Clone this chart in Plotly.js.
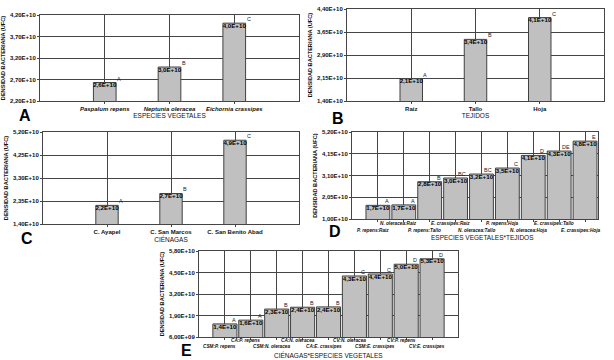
<!DOCTYPE html>
<html><head><meta charset="utf-8">
<script src="https://cdn.plot.ly/plotly-3.0.1.min.js"></script>
<style>html,body{margin:0;padding:0;background:#fff}#chart{width:614px;height:360px}</style>
</head><body><div id="chart"></div>
<script>
// ---- Panel A ----
const aCats = ['Paspalum repens', 'Neptunia oleracea', 'Eichornia crassipes'];
const aVals = [2.63e10, 2.99e10, 4.01e10];
const aLetters = ['A', 'B', 'C'];
const aTickVals = [2.2e10, 2.7e10, 3.2e10, 3.7e10, 4.2e10];
const aTickText = ['2,20E+10', '2,70E+10', '3,20E+10', '3,70E+10', '4,20E+10'];
const aTitle = 'ESPECIES VEGETALES';
// ---- Panel B ----
const bCats = ['Raiz', 'Tallo', 'Hoja'];
const bVals = [2.13e10, 3.41e10, 4.12e10];
const bLetters = ['A', 'B', 'C'];
const bTickVals = [1.4e10, 2.15e10, 2.9e10, 3.65e10, 4.4e10];
const bTickText = ['1,40E+10', '2,15E+10', '2,90E+10', '3,65E+10', '4,40E+10'];
const bTitle = 'TEJIDOS';
// ---- Panel C ----
const cCats = ['C. Ayapel', 'C. San Marcos', 'C. San Benito Abad'];
const cVals = [2.17e10, 2.66e10, 4.86e10];
const cLetters = ['A', 'B', 'C'];
const cTickVals = [1.4e10, 2.35e10, 3.3e10, 4.25e10, 5.2e10];
const cTickText = ['1,40E+10', '2,35E+10', '3,30E+10', '4,25E+10', '5,20E+10'];
const cTitle = 'CIÉNAGAS';
// ---- Panel D ----
const dCats = ['P. repens:Raiz', 'N. oleracea:Raiz', 'P. repens:Tallo', 'E. crassipes:Raiz', 'N. oleracea:Tallo',
               'P. repens:Hoja', 'N. oleracea:Hoja', 'E. crassipes:Tallo', 'E. crassipes:Hoja'];
const dVals = [1.66e10, 1.68e10, 2.80e10, 2.98e10, 3.17e10, 3.46e10, 4.07e10, 4.28e10, 4.76e10];
const dLetters = ['A', 'A', 'B', 'BC', 'BC', 'C', 'D', 'DE', 'E'];
const dTickVals = [1.0e10, 2.05e10, 3.1e10, 4.15e10, 5.2e10];
const dTickText = ['1,00E+10', '2,05E+10', '3,10E+10', '4,15E+10', '5,20E+10'];
const dTitle = 'ESPECIES VEGETALES*TEJIDOS';
// ---- Panel E ----
const eCats = ['CSM:P. repens', 'CA:P. repens', 'CSM:N. oleracea', 'CA:N. oleracea', 'CA:E. crassipes',
               'CV:N. oleracea', 'CSM:E. crassipes', 'CV:P. repens', 'CV:E. crassipes'];
const eVals = [1.39e10, 1.62e10, 2.29e10, 2.40e10, 2.42e10, 4.29e10, 4.41e10, 5.00e10, 5.33e10];
const eLetters = ['A', 'A', 'B', 'B', 'B', 'C', 'C', 'D', 'D'];
const eTickVals = [0.6e10, 1.9e10, 3.2e10, 4.5e10, 5.8e10];
const eTickText = ['6,00E+09', '1,90E+10', '3,20E+10', '4,50E+10', '5,80E+10'];
const eTitle = 'CIÉNAGAS*ESPECIES VEGETALES';

const panelLetters = ['A', 'B', 'C', 'D', 'E'];
const yAxisTitle = 'DENSIDAD BACTERIANA (UFC)';

const W = 614, H = 360;
const FONT = 'Liberation Sans, Arial, sans-serif';
const GRID = '#454545';

function fmt(v) { return (v / 1e10).toFixed(1).replace('.', ',') + 'E+10'; }

// layout-only settings per panel: box = [left, right, top, bottom] in px
const panels = [
  {cats: aCats, vals: aVals, letters: aLetters, tv: aTickVals, tt: aTickText, title: aTitle,
   box: [40, 299, 15, 101], xmax: 4, w: 0.35, italic: true, lpos: [25, 116], lanchor: 'left'},
  {cats: bCats, vals: bVals, letters: bLetters, tv: bTickVals, tt: bTickText, title: bTitle,
   box: [347, 604, 9, 101], xmax: 4, w: 0.35, italic: false, lpos: [338, 119], lanchor: 'left'},
  {cats: cCats, vals: cVals, letters: cLetters, tv: cTickVals, tt: cTickText, title: cTitle,
   box: [43, 299, 132, 224], xmax: 4, w: 0.35, italic: false, lpos: [27, 238], lanchor: 'left'},
  {cats: dCats, vals: dVals, letters: dLetters, tv: dTickVals, tt: dTickText, title: dTitle,
   box: [352, 598, 132, 219], xmax: 9.5, w: 0.92, italic: true, lpos: [335, 231], lanchor: 'right',
   stagger: {up: 223, low: 230.5, title: 237.5, tx: 482}},
  {cats: eCats, vals: eVals, letters: eLetters, tv: eTickVals, tt: eTickText, title: eTitle,
   box: [199, 458, 251, 337], xmax: 10, w: 0.93, italic: true, lpos: [186, 350], lanchor: 'right',
   stagger: {up: 340.5, low: 346.5, title: 354.5, tx: 328}}
];

const data = [];
const layout = {
  width: W, height: H, autosize: false,
  margin: {l: 0, r: 0, t: 0, b: 0},
  paper_bgcolor: '#fff', plot_bgcolor: '#fff',
  showlegend: false, font: {family: FONT, color: '#111'},
  annotations: []
};

panels.forEach((p, k) => {
  const s = k === 0 ? '' : String(k + 1);
  const xs = p.cats.map((c, i) => i + 1);
  const ymin = p.tv[0], ymax = p.tv[p.tv.length - 1];
  data.push({type: 'bar', x: xs, y: p.vals, width: p.w, base: 0,
    marker: {color: '#c0c0c0', line: {color: '#404040', width: 1}},
    xaxis: 'x' + s, yaxis: 'y' + s, hoverinfo: 'skip'});
  data.push({type: 'scatter', mode: 'text', x: xs, y: p.vals, text: p.vals.map(fmt),
    textposition: 'bottom center', cliponaxis: false,
    textfont: {family: FONT, size: 6.2, color: '#000', weight: 'bold'},
    xaxis: 'x' + s, yaxis: 'y' + s, hoverinfo: 'skip'});
  // significance letters at the upper right corner of each bar
  p.letters.forEach((L, i) => {
    layout.annotations.push({xref: 'x' + s, yref: 'y' + s, x: xs[i] + p.w / 2, y: p.vals[i],
      text: L, showarrow: false, xanchor: p.lanchor, yanchor: 'bottom', borderpad: 0, yshift: 0,
      font: {family: FONT, size: 5.5, color: '#222'}});
  });
  const [x0, x1, yt, yb] = p.box;
  const st = p.stagger;
  layout['xaxis' + s] = {
    domain: [x0 / W, x1 / W], anchor: 'y' + s, range: [0, p.xmax],
    tickvals: xs, ticktext: p.cats, tickangle: 0, showticklabels: !st,
    showgrid: true, gridcolor: GRID, gridwidth: 1,
    showline: true, mirror: true, linecolor: GRID, linewidth: 1, zeroline: false,
    ticks: 'outside', ticklen: 2, tickcolor: GRID,
    tickfont: {family: FONT, size: 6, color: '#111', weight: 'bold', style: p.italic ? 'italic' : 'normal'},
    title: {text: st ? '' : p.title, font: {family: FONT, size: 6.5, color: '#111'}, standoff: 2},
    fixedrange: true
  };
  layout['yaxis' + s] = {
    domain: [1 - yb / H, 1 - yt / H], anchor: 'x' + s, range: [ymin, ymax],
    tickvals: p.tv, ticktext: p.tt, showgrid: true, gridcolor: GRID, gridwidth: 1,
    showline: true, mirror: true, linecolor: GRID, linewidth: 1, zeroline: false,
    ticks: 'outside', ticklen: 2, tickcolor: GRID,
    tickfont: {family: FONT, size: 6, color: '#111', weight: 'bold'},
    title: {text: yAxisTitle, font: {family: FONT, size: 5.6, color: '#111', weight: 'bold'}, standoff: 3},
    fixedrange: true
  };
  if (st) {
    p.cats.forEach((c, i) => {
      layout.annotations.push({xref: 'x' + s, yref: 'paper', x: xs[i],
        y: 1 - (i % 2 === 0 ? st.low : st.up) / H, xshift: -5,
        text: c, showarrow: false, xanchor: 'center', yanchor: 'middle',
        font: {family: FONT, size: 4.7, color: '#111', weight: 'bold', style: 'italic'}});
    });
    layout.annotations.push({xref: 'paper', yref: 'paper', x: st.tx / W, y: 1 - st.title / H,
      text: p.title, showarrow: false, xanchor: 'center', yanchor: 'middle',
      font: {family: FONT, size: 6.5, color: '#111'}});
  }
  layout.annotations.push({xref: 'paper', yref: 'paper', x: p.lpos[0] / W, y: 1 - p.lpos[1] / H,
    text: panelLetters[k], showarrow: false, xanchor: 'center', yanchor: 'middle',
    font: {family: FONT, size: 16, color: '#000', weight: 'bold'}});
});

Plotly.newPlot('chart', data, layout, {displayModeBar: false, staticPlot: true});
</script>
</body></html>
